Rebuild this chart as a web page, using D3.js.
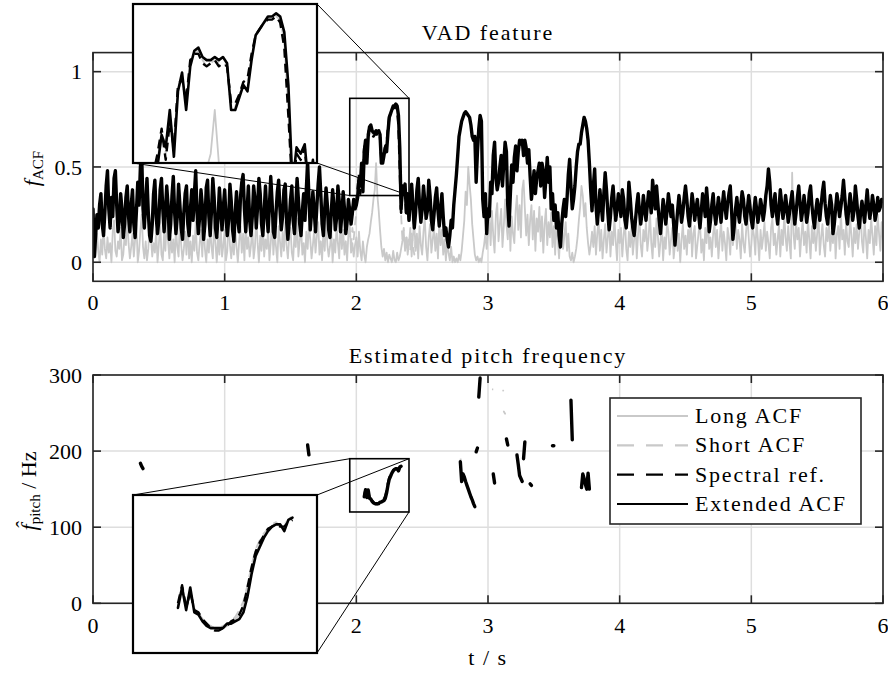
<!DOCTYPE html>
<html>
<head>
<meta charset="utf-8">
<script src="https://cdn.jsdelivr.net/npm/d3@7"></script>
<style>
  body { margin: 0; background: #fff; }
  svg { display: block; }
  text { font-family: "Liberation Serif", "Times New Roman", serif; fill: #000; }
</style>
</head>
<body>
<svg id="chart" width="888" height="673"></svg>
<script>
// ---------------------------------------------------------------
// Data: frame step 10 ms, t = 0 ... 6 s. VAD features in 1/100.
// ---------------------------------------------------------------
const frameStep = 0.01;

const extendedACF = [
  28, 3, 14, 25, 18, 30, 36, 20, 14, 26,
  40, 48, 28, 18, 34, 24, 44, 48, 30, 16,
  22, 36, 28, 13, 20, 34, 40, 24, 16, 30,
  38, 20, 13, 27, 42, 30, 50, 56, 28, 18,
  32, 44, 26, 14, 11, 20, 36, 43, 24, 15,
  22, 38, 44, 28, 16, 27, 40, 30, 12, 20,
  35, 45, 26, 15, 24, 41, 30, 18, 12, 26,
  36, 40, 20, 14, 28, 38, 22, 36, 48, 26,
  15, 24, 38, 30, 12, 20, 39, 43, 24, 14,
  27, 44, 34, 18, 13, 24, 39, 28, 17, 29,
  38, 24, 14, 22, 41, 32, 17, 11, 26, 37,
  22, 16, 34, 42, 46, 28, 16, 27, 40, 22,
  14, 24, 40, 33, 18, 29, 44, 36, 20, 14,
  27, 40, 26, 16, 30, 45, 32, 16, 13, 26,
  37, 43, 28, 17, 24, 38, 41, 22, 12, 21,
  33, 40, 22, 15, 29, 44, 33, 20, 14, 27,
  36, 22, 38, 53, 34, 17, 26, 37, 27, 16,
  29, 41, 50, 36, 20, 14, 28, 39, 30, 17,
  13, 27, 38, 30, 17, 23, 40, 32, 16, 25,
  37, 28, 15, 21, 33, 27, 20, 26, 33, 28,
  30, 34, 44, 40, 52, 37, 58, 64, 52, 66,
  71, 72, 69, 68, 68, 69, 68, 69, 67, 52,
  52, 56, 60, 58, 68, 76, 78, 80, 82, 82,
  83, 82, 77, 60, 28, 40, 38, 41, 26, 36,
  22, 33, 41, 29, 18, 26, 38, 44, 30, 21,
  28, 40, 32, 23, 27, 43, 35, 22, 17, 25,
  34, 39, 27, 19, 28, 36, 24, 14, 18, 12,
  8, 14, 22, 18, 30, 38, 46, 56, 66, 70,
  74, 76, 78, 79, 78, 77, 76, 72, 66, 64,
  66, 42, 58, 70, 77, 74, 33, 24, 36, 15,
  28, 24, 42, 36, 56, 63, 44, 38, 42, 50,
  56, 40, 52, 63, 58, 30, 19, 36, 51, 42,
  55, 61, 48, 58, 64, 62, 64, 56, 64, 60,
  52, 59, 45, 33, 40, 48, 36, 44, 48, 52,
  40, 52, 48, 34, 44, 55, 42, 50, 28, 36,
  22, 30, 18, 26, 14, 8, 20, 28, 33, 24,
  33, 46, 54, 40, 28, 33, 40, 50, 58, 62,
  62, 68, 72, 76, 74, 70, 64, 52, 38, 27,
  40, 49, 30, 20, 28, 38, 30, 22, 36, 47,
  38, 26, 17, 24, 34, 40, 30, 22, 28, 36,
  30, 24, 38, 33, 22, 18, 26, 42, 34, 24,
  18, 14, 22, 30, 36, 27, 20, 26, 35, 28,
  22, 30, 37, 32, 26, 43, 36, 28, 40, 31,
  22, 15, 24, 33, 28, 20, 27, 36, 30, 24,
  30, 20, 9, 18, 27, 35, 29, 21, 26, 34,
  40, 33, 24, 19, 27, 36, 30, 22, 28, 33,
  25, 18, 27, 36, 31, 24, 39, 30, 16, 22,
  30, 36, 26, 20, 27, 34, 28, 21, 30, 37,
  29, 23, 31, 36, 40, 27, 12, 19, 28, 34,
  26, 21, 30, 37, 33, 24, 20, 28, 35, 29,
  22, 18, 27, 34, 28, 21, 26, 33, 29, 22,
  27, 35, 40, 49, 42, 30, 24, 31, 36, 26,
  20, 28, 38, 31, 23, 27, 35, 29, 21, 26,
  32, 37, 28, 20, 26, 34, 40, 31, 22, 27,
  35, 29, 21, 26, 36, 40, 30, 23, 18, 27,
  33, 28, 22, 30, 37, 42, 31, 24, 20, 28,
  35, 30, 15, 20, 28, 36, 31, 24, 29, 35,
  43, 34, 25, 20, 28, 36, 30, 22, 27, 40,
  33, 24, 18, 26, 32, 27, 21, 30, 38, 29,
  23, 28, 35, 30, 22, 26, 34, 27, 29, 33,
  32
];

const longACF = [
  1, 9, 3, 15, 6, 0, 12, 4, 19, 7,
  2, 13, 5, 10, 0, 16, 22, 6, 3, 11,
  7, 18, 1, 4, 14, 9, 24, 10, 2, 8,
  15, 3, 12, 20, 0, 6, 17, 25, 8, 2,
  11, 1, 7, 19, 13, 3, 10, 5, 17, 0,
  9, 21, 4, 1, 15, 6, 23, 11, 2, 14,
  5, 12, 0, 18, 8, 3, 22, 9, 1, 7,
  16, 4, 20, 2, 11, 0, 14, 6, 21, 5,
  1, 10, 17, 3, 20, 7, 0, 12, 5, 18,
  8, 2, 22, 10, 0, 13, 4, 19, 3, 9,
  17, 1, 6, 24, 9, 2, 12, 4, 18, 8,
  0, 11, 19, 5, 15, 1, 21, 7, 13, 3,
  9, 18, 2, 8, 25, 10, 0, 14, 6, 20,
  3, 12, 7, 17, 1, 10, 22, 4, 15, 8,
  0, 19, 11, 3, 16, 6, 21, 9, 2, 13,
  18, 5, 1, 15, 8, 23, 3, 11, 19, 4,
  10, 0, 16, 7, 20, 12, 2, 9, 17, 5,
  14, 21, 4, 11, 1, 18, 6, 24, 9, 3,
  8, 16, 0, 12, 5, 19, 10, 2, 22, 7,
  17, 4, 11, 1, 15, 20, 5, 10, 3, 9,
  13, 3, 16, 6, 1, 11, 4, 0, 8, 12,
  15, 21, 26, 33, 38, 52, 35, 27, 17, 8,
  3, 7, 1, 5, 0, 4, 2, 0, 6, 1,
  0, 5, 1, 3, 7, 11, 16, 6, 13, 4,
  10, 18, 3, 14, 21, 6, 15, 2, 19, 9,
  4, 16, 23, 8, 1, 13, 20, 5, 12, 18,
  6, 15, 2, 21, 9, 17, 4, 12, 1, 10,
  5, 1, 8, 0, 3, 0, 2, 0, 4, 1,
  6, 14, 22, 37, 30, 50, 41, 33, 20, 12,
  4, 1, 3, 0, 2, 0, 5, 9, 15, 7,
  16, 24, 9, 27, 14, 5, 25, 31, 11, 20,
  28, 8, 19, 33, 20, 12, 29, 6, 24, 15,
  10, 27, 35, 17, 30, 13, 38, 43, 28, 14,
  25, 9, 22, 30, 12, 27, 6, 23, 16, 29,
  11, 24, 5, 20, 28, 9, 21, 13, 26, 8,
  19, 4, 23, 12, 2, 17, 25, 7, 14, 21,
  6, 15, 3, 1, 5, 0, 3, 7, 13, 22,
  29, 40, 35, 24, 31, 18, 10, 4, 9, 16,
  8, 19, 4, 15, 22, 6, 17, 2, 12, 20,
  5, 13, 21, 3, 16, 9, 23, 11, 1, 17,
  10, 18, 3, 14, 22, 7, 1, 16, 8, 19,
  4, 12, 20, 2, 15, 24, 9, 3, 17, 11,
  21, 6, 13, 27, 10, 2, 18, 8, 23, 14,
  3, 11, 19, 1, 13, 7, 21, 16, 4, 12,
  18, 2, 9, 22, 6, 15, 0, 12, 20, 7,
  14, 4, 17, 10, 23, 3, 15, 19, 2, 9,
  16, 21, 5, 12, 1, 18, 10, 25, 7, 13,
  3, 15, 20, 8, 17, 2, 12, 22, 6, 16,
  10, 1, 18, 13, 4, 21, 9, 15, 23, 7,
  17, 12, 2, 20, 10, 5, 16, 24, 13, 3,
  9, 19, 14, 4, 22, 12, 1, 17, 7, 13,
  21, 6, 16, 10, 2, 18, 23, 9, 15, 4,
  12, 20, 3, 17, 9, 25, 13, 6, 19, 10,
  2, 47, 15, 7, 21, 12, 18, 3, 14, 22,
  9, 16, 5, 23, 12, 2, 19, 10, 17, 6,
  15, 25, 4, 13, 20, 9, 3, 18, 11, 21,
  6, 16, 10, 23, 2, 15, 19, 7, 26, 12,
  17, 4, 21, 11, 8, 24, 14, 3, 18, 10,
  20, 7, 16, 27, 11, 5, 22, 13, 2, 17,
  10, 23, 14, 4, 19, 9, 25, 15, 6, 21,
  12
];

// Short ACF and spectral reference around the first voiced segment (from 1.95 s)
const segmentStart = 1.95;
const shortACF = [
  14, 9, 18, 12, 20,
  26, 36, 45, 38, 50, 42, 58, 63, 54, 67,
  70, 71, 68, 66, 67, 68, 67, 67, 66, 55,
  53, 57, 60, 61, 69, 76, 78, 80, 81, 81,
  82, 81, 74, 52, 25, 12, 18, 10, 14, 8,
  12, 6, 15, 9, 4, 11
];
const spectralRef = [
  27, 22, 26, 33, 28,
  32, 38, 46, 36, 48, 40, 60, 62, 55, 68,
  70, 70, 67, 66, 67, 68, 66, 67, 66, 54,
  54, 57, 61, 62, 70, 76, 78, 80, 81, 81,
  82, 80, 72, 50, 26, 38, 36, 40, 24, 34,
  22, 31, 40, 30, 20, 27
];

// Pitch tracks (Hz): voiced fragments, each with its start time
const pitchExtStarts = [0.36, 1.63, 2.06, 2.79, 2.91, 2.93, 3.04, 3.14, 3.22, 3.27, 3.32, 3.49, 3.63, 3.71];
const pitchExtValues = [
  [184, 180, 177],
  [208, 195],
  [140, 149, 139, 149, 138, 137, 134, 132, 131, 131, 131, 131, 133, 133, 134, 135, 138, 145, 155, 163, 167, 171, 174, 176, 177, 177, 174, 179, 180],
  [186, 160, 170, 166, 160, 155, 150, 145, 140, 136, 131, 127],
  [199, 204],
  [271, 296],
  [170, 158],
  [216, 208],
  [195, 182, 168, 164, 160],
  [190, 212],
  [157, 155],
  [207, 207],
  [267, 215],
  [152, 170, 164, 156, 150, 171, 150]
];
const pitchSpecStarts = [2.06];
const pitchSpecValues = [
  [142, 150, 140, 147, 139, 138, 135, 133, 131, 130, 130, 131, 132, 134, 135, 137, 141, 149, 158, 165, 169, 172, 175, 176, 177, 176, 176, 178, 179]
];
const pitchShortStarts = [2.06, 2.79, 3.03, 3.11];
const pitchShortValues = [
  [141, 150, 141, 148, 140, 138, 135, 133, 132, 131, 131, 132, 133, 134, 136, 139, 143, 150, 159, 166, 170, 173, 175, 177, 178, 176, 177, 179, 181],
  [190, 186],
  [281, 281],
  [280, 279]
];
const pitchLongStarts = [2.07, 3.12];
const pitchLongValues = [
  [148, 140, 147, 139, 137, 135, 133, 132, 131, 131, 131, 132, 133, 135, 137, 141, 148, 157, 164, 168, 172, 174, 176, 177, 177, 175],
  [252, 249]
];

const timeTicks = [0, 1, 2, 3, 4, 5, 6];
const vadTicks = [0, 0.5, 1];
const pitchTicks = [0, 100, 200, 300];
const legendLabels = ["Long ACF", "Short ACF", "Spectral ref.", "Extended ACF"];

// ---------------------------------------------------------------
// Styles
// ---------------------------------------------------------------
const GRAY = "#c9c9c9";
const AXIS = "#262626";
const GRID = "#dedede";
const styles = {
  long:  { color: GRAY, dash: null, offset: 0 },
  short: { color: GRAY, dash: "9,6", offset: 7.5 },
  spec:  { color: "#000", dash: "9,6", offset: 0 },
  ext:   { color: "#000", dash: null, offset: 0 }
};

const svg = d3.select("#chart");
const defs = svg.append("defs");

const x = d3.scaleLinear().domain([0, 6]).range([93, 883]);
const yVad = d3.scaleLinear().domain([-0.1, 1.1]).range([281.3, 52.6]);
const yPitch = d3.scaleLinear().domain([0, 300]).range([603.3, 375]);

const toPoints = (vals, t0, scale) => vals.map((v, i) => [t0 + i * frameStep, v / scale]);

const vadSeries = [
  { key: "long",  pts: toPoints(longACF, 0, 100) },
  { key: "short", pts: toPoints(shortACF, segmentStart, 100) },
  { key: "spec",  pts: toPoints(spectralRef, segmentStart, 100) },
  { key: "ext",   pts: toPoints(extendedACF, 0, 100) }
];
const segs = (starts, vals) => starts.map((s, i) => toPoints(vals[i], s, 1));
const pitchSeries = [
  { key: "long",  parts: segs(pitchLongStarts, pitchLongValues) },
  { key: "short", parts: segs(pitchShortStarts, pitchShortValues) },
  { key: "spec",  parts: segs(pitchSpecStarts, pitchSpecValues) },
  { key: "ext",   parts: segs(pitchExtStarts, pitchExtValues) }
];

function clipRect(id, x0, y0, x1, y1) {
  defs.append("clipPath").attr("id", id).append("rect")
    .attr("x", x0).attr("y", y0).attr("width", x1 - x0).attr("height", y1 - y0);
  return `url(#${id})`;
}

function drawAxes(ys, ticks, fmt, title, titleY, xLabelY) {
  const [yb, yt] = ys.range();
  const [xl, xr] = x.range();
  const g = svg.append("g");
  g.selectAll(".gx").data(timeTicks).join("line")
    .attr("x1", d => x(d)).attr("x2", d => x(d)).attr("y1", yt).attr("y2", yb)
    .attr("stroke", GRID).attr("stroke-width", 1.5);
  g.selectAll(".gy").data(ticks).join("line")
    .attr("x1", xl).attr("x2", xr).attr("y1", d => ys(d)).attr("y2", d => ys(d))
    .attr("stroke", GRID).attr("stroke-width", 1.5);
  g.selectAll(".tx").data(timeTicks).join("text")
    .attr("x", d => x(d)).attr("y", xLabelY).attr("text-anchor", "middle")
    .attr("font-size", 22).text(d => d);
  g.selectAll(".ty").data(ticks).join("text")
    .attr("x", 82).attr("y", d => ys(d)).attr("dy", "0.35em").attr("text-anchor", "end")
    .attr("font-size", 22).text(fmt);
  g.append("text").attr("x", (xl + xr) / 2).attr("y", titleY).attr("text-anchor", "middle")
    .attr("font-size", 22).attr("letter-spacing", 1.9).text(title);
  return g;
}

function drawFrame(ys, ticks) {
  const [yb, yt] = ys.range();
  const [xl, xr] = x.range();
  const g = svg.append("g").attr("stroke", AXIS).attr("stroke-width", 1.6).attr("fill", "none");
  const tl = 8;
  timeTicks.forEach(t => {
    g.append("line").attr("x1", x(t)).attr("x2", x(t)).attr("y1", yb).attr("y2", yb - tl);
    g.append("line").attr("x1", x(t)).attr("x2", x(t)).attr("y1", yt).attr("y2", yt + tl);
  });
  ticks.forEach(v => {
    g.append("line").attr("x1", xl).attr("x2", xl + tl).attr("y1", ys(v)).attr("y2", ys(v));
    g.append("line").attr("x1", xr).attr("x2", xr - tl).attr("y1", ys(v)).attr("y2", ys(v));
  });
  g.append("rect").attr("x", xl).attr("y", yt).attr("width", xr - xl).attr("height", yb - yt);
}

function drawLines(parent, parts, key, xs, ys, width) {
  const st = styles[key];
  const line = d3.line().x(d => xs(d[0])).y(d => ys(d[1]));
  parent.selectAll(null).data(parts).join("path")
    .attr("d", line)
    .attr("fill", "none")
    .attr("stroke", st.color)
    .attr("stroke-width", width)
    .attr("stroke-linejoin", "round")
    .attr("stroke-linecap", st.dash ? "butt" : "round")
    .attr("stroke-dasharray", st.dash)
    .attr("stroke-dashoffset", st.offset);
}

// Zoom inset: box on the page, magnified view of [t0,t1] x [v0,v1]
function drawInset(box, dom, ys, seriesList, isPitch, id) {
  const rx0 = x(dom.t0), rx1 = x(dom.t1), ry0 = ys(dom.v1), ry1 = ys(dom.v0);
  const lines = svg.append("g").attr("stroke", "#000").attr("stroke-width", 1);
  box.links.forEach(([bx, by, sx, sy]) => {
    lines.append("line")
      .attr("x1", bx === 0 ? box.x0 : box.x1).attr("y1", by === 0 ? box.y0 : box.y1)
      .attr("x2", sx === 0 ? rx0 : rx1).attr("y2", sy === 0 ? ry0 : ry1);
  });
  svg.append("rect").attr("x", rx0).attr("y", ry0).attr("width", rx1 - rx0).attr("height", ry1 - ry0)
    .attr("fill", "none").attr("stroke", "#000").attr("stroke-width", 1.6);

  svg.append("rect").attr("x", box.x0).attr("y", box.y0)
    .attr("width", box.x1 - box.x0).attr("height", box.y1 - box.y0).attr("fill", "#fff");
  const ix = d3.scaleLinear().domain([dom.t0, dom.t1]).range([box.x0, box.x1]);
  const iy = d3.scaleLinear().domain([dom.v0, dom.v1]).range([box.y1, box.y0]);
  const g = svg.append("g").attr("clip-path", clipRect(id, box.x0, box.y0, box.x1, box.y1));
  seriesList.forEach(s => {
    const parts = isPitch ? s.parts : [s.pts];
    drawLines(g, parts, s.key, ix, iy, s.key === "ext" ? 2.6 : (s.key === "spec" ? 2.4 : 1.8));
  });
  svg.append("rect").attr("x", box.x0).attr("y", box.y0)
    .attr("width", box.x1 - box.x0).attr("height", box.y1 - box.y0)
    .attr("fill", "none").attr("stroke", "#000").attr("stroke-width", 2.2);
}

// ---------------- Upper panel: VAD feature ----------------
drawAxes(yVad, vadTicks, d => d, "VAD feature", 40, 310);
{
  const g = svg.append("g").attr("clip-path", clipRect("clipVad", 93, 52.6, 883, 281.3));
  vadSeries.forEach(s => drawLines(g, [s.pts], s.key, x, yVad, s.key === "ext" ? 3.4 : (s.key === "spec" ? 2.6 : 1.8)));
}
drawFrame(yVad, vadTicks);
svg.append("text").attr("transform", "translate(39,168.5) rotate(-90)").attr("text-anchor", "middle")
  .call(t => {
    t.append("tspan").attr("font-style", "italic").attr("font-size", 22).text("f");
    t.append("tspan").attr("font-size", 15).attr("dy", 4).text("ACF");
  });
drawInset({ x0: 133, y0: 4, x1: 317, y1: 163, links: [[1, 0, 1, 0], [0, 1, 0, 1], [1, 1, 1, 1]] },
  { t0: 1.95, t1: 2.4, v0: 0.35, v1: 0.86 }, yVad, vadSeries, false, "clipInsetVad");

// ---------------- Lower panel: pitch ----------------
drawAxes(yPitch, pitchTicks, d => d, "Estimated pitch frequency", 363, 633);
{
  const g = svg.append("g").attr("clip-path", clipRect("clipPitch", 93, 370, 883, 603.3));
  pitchSeries.forEach(s => drawLines(g, s.parts, s.key, x, yPitch, s.key === "ext" ? 3.4 : (s.key === "spec" ? 2.4 : 1.8)));
}
drawFrame(yPitch, pitchTicks);
svg.append("text").attr("transform", "translate(36,491) rotate(-90)").attr("text-anchor", "middle")
  .call(t => {
    t.append("tspan").attr("font-style", "italic").attr("font-size", 22).text("f\u0302");
    t.append("tspan").attr("font-size", 15).attr("dy", 4).text("pitch");
    t.append("tspan").attr("font-size", 22).attr("dy", -4).text(" / Hz");
  });
svg.append("text").attr("x", 488).attr("y", 665).attr("text-anchor", "middle")
  .attr("font-size", 22).attr("letter-spacing", 1.5).text("t / s");

// legend
{
  const lg = svg.append("g");
  lg.append("rect").attr("x", 610).attr("y", 398).attr("width", 251).attr("height", 126)
    .attr("fill", "#fff").attr("stroke", AXIS).attr("stroke-width", 1.6);
  const keys = ["long", "short", "spec", "ext"];
  const rowY = d3.scaleLinear().domain([0, 3]).range([416, 504]);
  keys.forEach((k, i) => {
    const st = styles[k];
    lg.append("line").attr("x1", 617).attr("x2", 688).attr("y1", rowY(i)).attr("y2", rowY(i))
      .attr("stroke", st.color).attr("stroke-width", 2.2)
      .attr("stroke-dasharray", st.dash ? "17,12" : null);
    lg.append("text").attr("x", 695).attr("y", rowY(i) + 7).attr("font-size", 22)
      .attr("letter-spacing", 1.8).text(legendLabels[i]);
  });
}

drawInset({ x0: 133, y0: 495, x1: 317, y1: 653, links: [[0, 0, 0, 0], [1, 0, 1, 0], [1, 1, 1, 1]] },
  { t0: 1.95, t1: 2.4, v0: 120, v1: 190 }, yPitch, pitchSeries, true, "clipInsetPitch");
</script>
</body>
</html>
